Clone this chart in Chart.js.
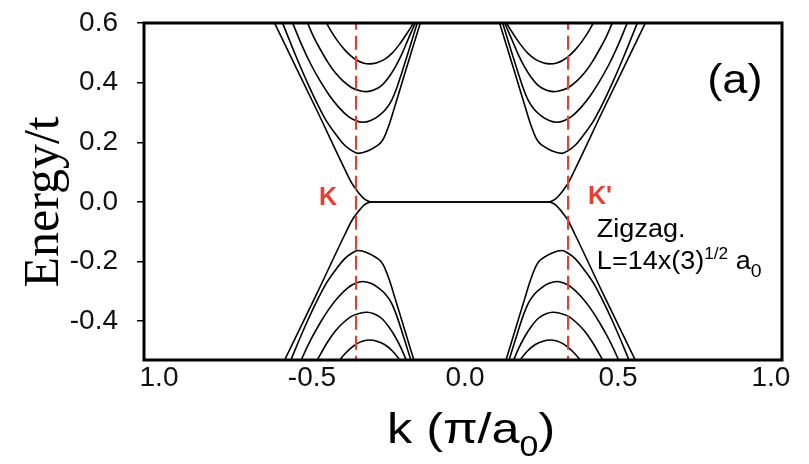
<!DOCTYPE html>
<html>
<head>
<meta charset="utf-8">
<script src="https://cdn.jsdelivr.net/npm/chart.js@4.4.1/dist/chart.umd.min.js"></script>
<style>
  html, body { margin: 0; padding: 0; background: #fff; }
  canvas { display: block; }
</style>
</head>
<body>
<canvas id="bands" width="809" height="464"></canvas>
<script>
// k in units of pi/a0, energy in units of t
const kAxisMin = -1.049;
const kAxisMax = 1.036;
const eAxisMin = -0.53;
const eAxisMax = 0.6;

const kTickValues = [-1.0, -0.5, 0.0, 0.5, 1.0];
const kTickLabels = ['1.0', '-0.5', '0.0', '0.5', '1.0'];
const eTickValues = [-0.4, -0.2, 0.0, 0.2, 0.4, 0.6];
const eTickLabels = ['-0.4', '-0.2', '0.0', '0.2', '0.4', '0.6'];

// dirac points K and K'
const kDirac = [-0.356, 0.337];

// edge state band (flat between K and K')
const kEdge = [-0.636, -0.621, -0.483, -0.393, -0.370, -0.356, -0.343, -0.330, -0.317, -0.304,
  0.271, 0.284, 0.297, 0.310, 0.323, 0.337, 0.360, 0.450, 0.588, 0.603];
const eEdgeCond = [0.63, 0.597, 0.305, 0.11, 0.063, 0.042, 0.025, 0.011, 0.003, 0.0,
  0.0, 0.003, 0.011, 0.025, 0.042, 0.063, 0.11, 0.305, 0.597, 0.63];
const eEdgeVal = [-0.63, -0.597, -0.305, -0.11, -0.063, -0.042, -0.025, -0.011, -0.003, 0.0,
  0.0, -0.003, -0.011, -0.025, -0.042, -0.063, -0.11, -0.305, -0.597, -0.63];

// subbands around K
const kLeft1 = [-0.608, -0.595, -0.553, -0.513, -0.483, -0.453, -0.423, -0.393, -0.370, -0.350, -0.318,
  -0.288, -0.276, -0.265, -0.246, -0.228, -0.211, -0.196, -0.173, -0.147, -0.137];
const eLeft1 = [0.63, 0.597, 0.49, 0.395, 0.33, 0.272, 0.228, 0.19, 0.172, 0.163, 0.171,
  0.188, 0.198, 0.215, 0.265, 0.325, 0.382, 0.433, 0.51, 0.597, 0.63];
const eLeft1Val = [-0.63, -0.597, -0.49, -0.395, -0.33, -0.272, -0.228, -0.19, -0.172, -0.163, -0.171,
  -0.188, -0.198, -0.215, -0.265, -0.325, -0.382, -0.433, -0.51, -0.597, -0.63];

const kLeft2 = [-0.575, -0.562, -0.533, -0.503, -0.473, -0.443, -0.413, -0.383, -0.358, -0.334,
  -0.308, -0.283, -0.261, -0.241, -0.223, -0.206, -0.190, -0.173, -0.157, -0.147];
const eLeft2 = [0.63, 0.597, 0.525, 0.46, 0.405, 0.357, 0.318, 0.288, 0.273, 0.267,
  0.273, 0.288, 0.308, 0.338, 0.382, 0.435, 0.487, 0.543, 0.597, 0.63];
const eLeft2Val = [-0.63, -0.597, -0.525, -0.46, -0.405, -0.357, -0.318, -0.288, -0.273, -0.267,
  -0.273, -0.288, -0.308, -0.338, -0.382, -0.435, -0.487, -0.543, -0.597, -0.63];

const kLeft3 = [-0.527, -0.513, -0.493, -0.473, -0.448, -0.423, -0.398, -0.370, -0.343,
  -0.321, -0.298, -0.273, -0.248, -0.228, -0.208, -0.188, -0.164, -0.150];
const eLeft3 = [0.63, 0.597, 0.55, 0.512, 0.468, 0.432, 0.405, 0.383, 0.373,
  0.37, 0.375, 0.39, 0.42, 0.452, 0.492, 0.54, 0.597, 0.63];
const eLeft3Val = [-0.63, -0.597, -0.55, -0.512, -0.468, -0.432, -0.405, -0.383, -0.373,
  -0.37, -0.375, -0.39, -0.42, -0.452, -0.492, -0.54, -0.597, -0.63];

const kLeft4 = [-0.468, -0.451, -0.433, -0.413, -0.393, -0.373, -0.353, -0.333,
  -0.311, -0.288, -0.263, -0.238, -0.213, -0.191, -0.170, -0.151];
const eLeft4 = [0.63, 0.597, 0.565, 0.535, 0.51, 0.49, 0.475, 0.466,
  0.463, 0.467, 0.478, 0.499, 0.53, 0.563, 0.597, 0.63];
const eLeft4Val = [-0.63, -0.597, -0.565, -0.535, -0.51, -0.49, -0.475, -0.466,
  -0.463, -0.467, -0.478, -0.499, -0.53, -0.563, -0.597, -0.63];

// subbands around K'
const kRight1 = [0.104, 0.114, 0.140, 0.163, 0.178, 0.195, 0.213, 0.232, 0.243, 0.255, 0.285,
  0.317, 0.337, 0.360, 0.390, 0.420, 0.450, 0.480, 0.520, 0.562, 0.575];
const eRight1 = [0.63, 0.597, 0.51, 0.433, 0.382, 0.325, 0.265, 0.215, 0.198, 0.188, 0.171,
  0.163, 0.172, 0.19, 0.228, 0.272, 0.33, 0.395, 0.49, 0.597, 0.63];
const eRight1Val = [-0.63, -0.597, -0.51, -0.433, -0.382, -0.325, -0.265, -0.215, -0.198, -0.188, -0.171,
  -0.163, -0.172, -0.19, -0.228, -0.272, -0.33, -0.395, -0.49, -0.597, -0.63];

const kRight2 = [0.114, 0.124, 0.140, 0.157, 0.173, 0.190, 0.208, 0.228, 0.250, 0.275,
  0.301, 0.325, 0.350, 0.380, 0.410, 0.440, 0.470, 0.500, 0.529, 0.542];
const eRight2 = [0.63, 0.597, 0.543, 0.487, 0.435, 0.382, 0.338, 0.308, 0.288, 0.273,
  0.267, 0.273, 0.288, 0.318, 0.357, 0.405, 0.46, 0.525, 0.597, 0.63];
const eRight2Val = [-0.63, -0.597, -0.543, -0.487, -0.435, -0.382, -0.338, -0.308, -0.288, -0.273,
  -0.267, -0.273, -0.288, -0.318, -0.357, -0.405, -0.46, -0.525, -0.597, -0.63];

const kRight3 = [0.117, 0.131, 0.155, 0.175, 0.195, 0.215, 0.240, 0.265, 0.288,
  0.310, 0.337, 0.365, 0.390, 0.415, 0.440, 0.460, 0.480, 0.494];
const eRight3 = [0.63, 0.597, 0.54, 0.492, 0.452, 0.42, 0.39, 0.375, 0.37,
  0.373, 0.383, 0.405, 0.432, 0.468, 0.512, 0.55, 0.597, 0.63];
const eRight3Val = [-0.63, -0.597, -0.54, -0.492, -0.452, -0.42, -0.39, -0.375, -0.37,
  -0.373, -0.383, -0.405, -0.432, -0.468, -0.512, -0.55, -0.597, -0.63];

const kRight4 = [0.118, 0.137, 0.158, 0.180, 0.205, 0.230, 0.255, 0.278,
  0.300, 0.320, 0.340, 0.360, 0.380, 0.400, 0.418, 0.435];
const eRight4 = [0.63, 0.597, 0.563, 0.53, 0.499, 0.478, 0.467, 0.463,
  0.466, 0.475, 0.49, 0.51, 0.535, 0.565, 0.597, 0.63];
const eRight4Val = [-0.63, -0.597, -0.563, -0.53, -0.499, -0.478, -0.467, -0.463,
  -0.466, -0.475, -0.49, -0.51, -0.535, -0.565, -0.597, -0.63];

const red = '#ea3d2f';

const band = (k, e) => ({
  data: k.map((x, i) => ({ x, y: e[i] })),
  borderColor: '#000',
  borderWidth: 1.6,
  pointRadius: 0,
  cubicInterpolationMode: 'monotone',
  fill: false,
});

const diracLine = (k) => ({
  data: [{ x: k, y: eAxisMin - 0.1 }, { x: k, y: eAxisMax + 0.1 }],
  borderColor: red,
  borderWidth: 2.2,
  borderDash: [14, 6],
  pointRadius: 0,
  tension: 0,
});

// first datasets are painted last, so the dashed lines sit on top
const datasets = [
  ...kDirac.map(diracLine),
  band(kEdge, eEdgeCond), band(kEdge, eEdgeVal),
  band(kLeft1, eLeft1), band(kLeft1, eLeft1Val),
  band(kLeft2, eLeft2), band(kLeft2, eLeft2Val),
  band(kLeft3, eLeft3), band(kLeft3, eLeft3Val),
  band(kLeft4, eLeft4), band(kLeft4, eLeft4Val),
  band(kRight1, eRight1), band(kRight1, eRight1Val),
  band(kRight2, eRight2), band(kRight2, eRight2Val),
  band(kRight3, eRight3), band(kRight3, eRight3Val),
  band(kRight4, eRight4), band(kRight4, eRight4Val),
];

// draws text pieces one after another (for sub/superscripts)
function drawRuns(ctx, x, y, runs, stretch) {
  ctx.save();
  ctx.translate(x, y);
  ctx.scale(stretch, 1);
  ctx.textAlign = 'left';
  ctx.textBaseline = 'alphabetic';
  let cx = 0;
  runs.forEach((r) => {
    ctx.font = r.font;
    ctx.fillText(r.text, cx, r.dy || 0);
    cx += ctx.measureText(r.text).width;
  });
  ctx.restore();
}

const sans = (s) => s + 'px "Liberation Sans", Arial, sans-serif';

const overlay = {
  id: 'overlay',
  afterDraw(chart) {
    const { ctx, chartArea: a } = chart;
    const xs = chart.scales.x;
    const ys = chart.scales.y;
    ctx.save();

    // frame
    ctx.strokeStyle = '#000';
    ctx.lineWidth = 3;
    ctx.strokeRect(a.left, a.top, a.right - a.left, a.bottom - a.top);

    // K, K'
    ctx.fillStyle = red;
    ctx.font = 'bold 25px "Liberation Sans", Arial, sans-serif';
    ctx.textAlign = 'center';
    ctx.textBaseline = 'middle';
    ctx.fillText('K', xs.getPixelForValue(-0.448), ys.getPixelForValue(0.012));
    ctx.fillText("K'", xs.getPixelForValue(0.441), ys.getPixelForValue(0.016));

    // panel label
    ctx.fillStyle = '#000';
    ctx.save();
    ctx.translate(xs.getPixelForValue(0.882), ys.getPixelForValue(0.403));
    ctx.scale(1.13, 1);
    ctx.font = sans(40);
    ctx.fillText('(a)', 0, 0);
    ctx.restore();

    // ribbon description
    const tx = xs.getPixelForValue(0.431);
    drawRuns(ctx, tx, ys.getPixelForValue(-0.117), [{ text: 'Zigzag.', font: sans(25) }], 1.08);
    drawRuns(ctx, tx, ys.getPixelForValue(-0.225), [
      { text: 'L=14x(3)', font: sans(25) },
      { text: '1/2', font: sans(16), dy: -10 },
      { text: ' a', font: sans(25) },
      { text: '0', font: sans(18), dy: 8 },
    ], 1.08);

    // axis titles
    drawRuns(ctx, 387, 443, [
      { text: 'k (\u03c0/a', font: sans(43) },
      { text: '0', font: sans(29), dy: 13 },
      { text: ')', font: sans(43) },
    ], 1.17);

    ctx.save();
    ctx.translate(58, ys.getPixelForValue(0.0));
    ctx.rotate(-Math.PI / 2);
    ctx.font = '50px "Liberation Serif", "Times New Roman", serif';
    ctx.textAlign = 'center';
    ctx.textBaseline = 'alphabetic';
    ctx.fillText('Energy/t', 0, 0);
    ctx.restore();

    ctx.restore();
  },
};

const tickFont = { family: '"Liberation Sans", Arial, sans-serif', size: 28 };

new Chart(document.getElementById('bands'), {
  type: 'line',
  data: { datasets },
  options: {
    responsive: false,
    animation: false,
    devicePixelRatio: 1,
    layout: { padding: { left: 0, right: 27, top: 23, bottom: 0 } },
    plugins: { legend: { display: false }, tooltip: { enabled: false } },
    scales: {
      x: {
        type: 'linear',
        min: kAxisMin,
        max: kAxisMax,
        afterFit: (scale) => {
          scale.height = 104;
          scale.paddingLeft = 0;
          scale.paddingRight = 0;
        },
        afterBuildTicks: (scale) => { scale.ticks = kTickValues.map((v) => ({ value: v })); },
        ticks: {
          font: tickFont,
          color: '#111',
          padding: 1,
          maxRotation: 0,
          autoSkip: false,
          callback: (v, i) => kTickLabels[i],
        },
        grid: { display: false, drawTicks: false },
        border: { display: false },
      },
      y: {
        type: 'linear',
        min: eAxisMin,
        max: eAxisMax,
        afterFit: (scale) => {
          scale.width = 144;
          scale.paddingTop = 0;
          scale.paddingBottom = 0;
        },
        afterBuildTicks: (scale) => { scale.ticks = eTickValues.map((v) => ({ value: v })); },
        ticks: {
          font: tickFont,
          color: '#111',
          padding: 19,
          autoSkip: false,
          callback: (v, i) => eTickLabels[i],
        },
        grid: {
          display: true,
          drawOnChartArea: false,
          drawTicks: true,
          tickLength: 7,
          color: '#000',
          lineWidth: 1.5,
        },
        border: { display: false },
      },
    },
  },
  plugins: [overlay],
});
</script>
</body>
</html>
